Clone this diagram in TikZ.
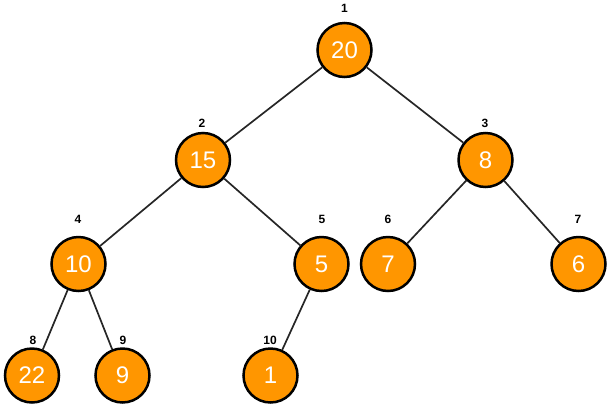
\documentclass[tikz,border=0pt]{standalone}
\usepackage{fontspec}
\setmainfont{Liberation Sans}
\definecolor{heaporange}{RGB}{255,150,0}
\begin{document}
\begin{tikzpicture}[x=1pt,y=-1pt,
  hnode/.style={circle,draw=black,line width=2.5pt,fill=heaporange,minimum size=54pt,inner sep=0pt,text=white,font=\fontsize{24}{24}\selectfont},
  idx/.style={font=\bfseries\fontsize{12}{12}\selectfont,inner sep=0pt},
  edge/.style={draw=black!85,line width=1.7pt}]
\useasboundingbox (0,0) rectangle (610,408);
\node[hnode] (n1) at (344.5,50) {20};
\node[hnode] (n2) at (203,160) {15};
\node[hnode] (n3) at (485.5,160) {8};
\node[hnode] (n4) at (78.5,264) {10};
\node[hnode] (n5) at (321.5,264) {5};
\node[hnode] (n6) at (388,264) {7};
\node[hnode] (n7) at (578.5,264) {6};
\node[hnode] (n8) at (32,375.5) {22};
\node[hnode] (n9) at (122.5,375.5) {9};
\node[hnode] (n10) at (270.5,375.5) {1};
\node[idx] (l1) at (344.5,8) {1};
\node[idx] (l2) at (202,123) {2};
\node[idx] (l3) at (485,123) {3};
\node[idx] (l4) at (78,219) {4};
\node[idx] (l5) at (322,219) {5};
\node[idx] (l6) at (388,219) {6};
\node[idx] (l7) at (578,219) {7};
\node[idx] (l8) at (33,340) {8};
\node[idx] (l9) at (123,340) {9};
\node[idx] (l10) at (270,340) {10};
\path[edge] (n1) -- (n2);
\path[edge] (n1) -- (n3);
\path[edge] (n2) -- (n4);
\path[edge] (n2) -- (n5);
\path[edge] (n3) -- (n6);
\path[edge] (n3) -- (n7);
\path[edge] (n4) -- (n8);
\path[edge] (n4) -- (n9);
\path[edge] (n5) -- (n10);
\end{tikzpicture}
\end{document}
